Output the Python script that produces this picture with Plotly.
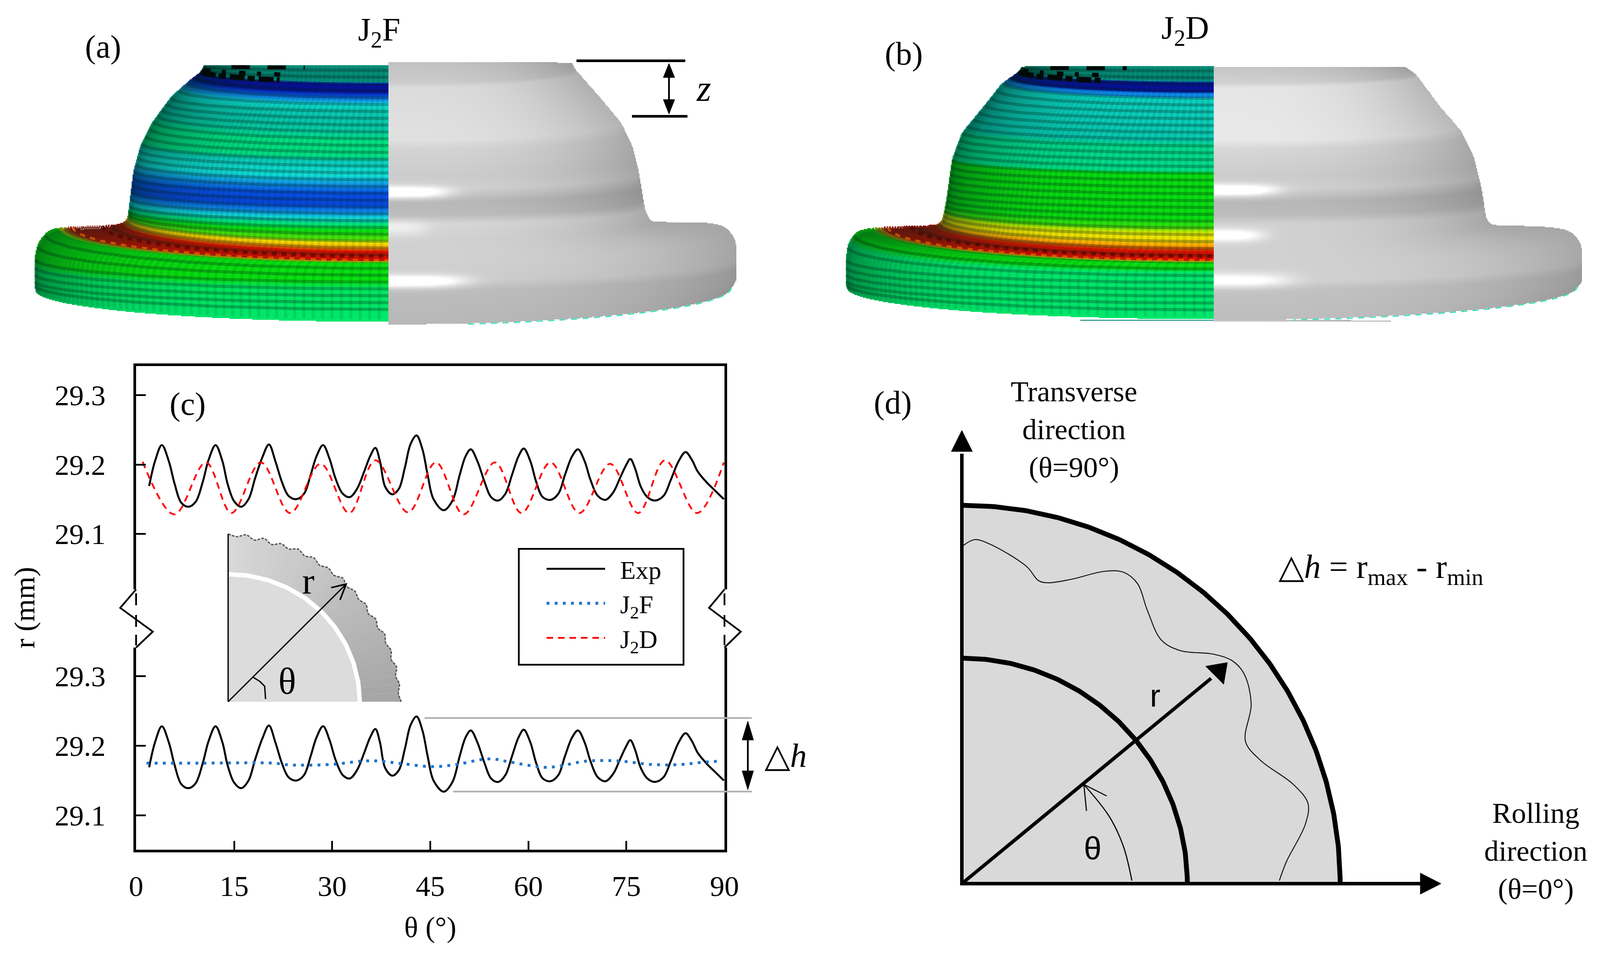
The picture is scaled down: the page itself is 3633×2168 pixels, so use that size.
import numpy as np
import plotly.graph_objects as go

W, H = 3633, 2168

# ---------- chart (c) values ----------
exp_theta = [2.0,2.9,3.94,5.0,5.9,6.9,7.99,9.1,10.2,11.1,12.16,13.2,14.0,15.0,16.08,17.2,18.2,19.3,20.32,21.3,22.3,23.3,24.5,25.7,26.7,27.6,28.6,29.6,30.5,31.6,32.7,33.8,34.9,35.8,36.6,37.3,38.1,39.2,40.2,41.1,42.0,42.9,43.8,44.6,45.5,47.05,48.4,49.5,50.4,51.2,52.2,53.3,54.3,55.4,56.5,57.5,58.5,59.3,60.3,61.2,62.2,63.4,64.6,65.6,66.7,67.6,68.6,69.5,70.6,71.8,73.0,74.0,74.9,75.6,76.3,77.2,78.2,79.4,80.7,81.8,83.0,84.05,85.0,85.9,87.2,88.6,89.9]
exp_r = [29.169,29.205,29.228,29.205,29.172,29.145,29.139,29.146,29.175,29.207,29.228,29.205,29.172,29.147,29.139,29.150,29.180,29.210,29.229,29.205,29.175,29.155,29.150,29.158,29.185,29.212,29.228,29.208,29.180,29.158,29.153,29.165,29.190,29.212,29.224,29.205,29.168,29.157,29.165,29.195,29.230,29.242,29.222,29.185,29.150,29.134,29.148,29.185,29.212,29.222,29.205,29.175,29.153,29.148,29.158,29.185,29.212,29.223,29.205,29.175,29.153,29.149,29.158,29.185,29.212,29.222,29.205,29.178,29.155,29.149,29.160,29.180,29.198,29.208,29.195,29.168,29.153,29.148,29.155,29.178,29.205,29.218,29.207,29.190,29.175,29.162,29.150]
j2f_theta = [1.6,10,21,23.4,29.7,34.7,37.1,40.9,45.2,49,52.7,54.6,57,63,69,74,78.9,83.2,86.4,89.5]
j2f_r = [29.175,29.175,29.175,29.1725,29.173,29.178,29.178,29.174,29.170,29.173,29.180,29.181,29.177,29.169,29.178,29.178,29.173,29.173,29.176,29.178]
j2d_theta = [1.0,5.87,10.67,14.59,19.08,23.56,28.23,32.6,36.6,41.6,45.86,50.1,54.9,58.95,63.4,67.8,72.5,76.8,80.9,85.8,89.9]
j2d_r = [29.204,29.128,29.203,29.130,29.203,29.130,29.201,29.130,29.206,29.131,29.203,29.128,29.203,29.130,29.203,29.130,29.201,29.130,29.206,29.130,29.203]
x_ticks = [0,15,30,45,60,75,90]
r_ticks = [29.1,29.2,29.3]
r_tick_labels = ["29.1","29.2","29.3"]

# ---------- illustration parameters (a), (b) ----------
palette = [[0.00,"#08109a"],[0.12,"#0850e8"],[0.22,"#1098e8"],[0.30,"#10e0d8"],[0.38,"#08c8ae"],[0.48,"#00e878"],
           [0.56,"#08e010"],[0.68,"#a0e800"],[0.76,"#f0e800"],[0.86,"#ffa000"],[1.00,"#d81000"]]
a_s_y = [148,186,192,210,222,236,250,300,320,355,372,400,420,440,465,482,497,508,525,545,552,562,572,592,598,640,655,730]
a_s_v = [.38,.38,0,0,.15,.28,.36,.40,.46,.46,.34,.30,.22,.12,.10,.2,.3,.46,.56,.62,.76,.84,1,1,.56,.56,.5,.49]
b_s_y = [149,184,189,209,214,221,226,318,330,388,395,497,517,530,547,560,572,592,597,612,620,724]
b_s_v = [.38,.38,0,0,.2,.2,.34,.37,.44,.45,.56,.56,.60,.74,.78,.86,1,1,.56,.56,.49,.49]
a_left = dict(cx=882, seam=[148,195,219,249,320,365,423,512,560,578,592,602,622,640,690,730], x=[465,455,430,390,345,320,304,293,290,272,149,112,86,79,79,82], y=[148,165,184,219,280,330,388,478,498,512,515,520,552,590,642,660])
b_left = dict(cx=2756, seam=[149,195,225,269,330,390,478,520,550,572,592,602,622,640,690,724], x=[2322,2312,2275,2237,2186,2163,2151,2145,2140,2130,2010,1950,1926,1921,1921,1925], y=[152,165,190,239,300,360,448,480,500,512,515,520,552,590,640,655])
a_right = dict(cx=882, seam=[142,195,249,320,365,423,512,545,592,602,622,640,690,736], x=[1297,1307,1359,1410,1436,1449,1464,1478,1590,1642,1670,1672,1672,1660], y=[143,160,219,280,335,388,478,505,505,510,542,590,632,652])
b_right = dict(cx=2756, seam=[148,195,269,328,380,453,527,548,592,602,622,640,690,726], x=[3192,3215,3266,3317,3345,3362,3374,3385,3500,3561,3590,3592,3592,3580], y=[154,170,239,298,355,423,497,512,515,520,552,590,636,650])
gray_y = [142,190,200,320,340,400,430,460,490,510,545,592,640,660,736]
a_gray = [.76,.80,.86,.88,.83,.80,.82,.72,.74,.84,.82,.82,.80,.74,.72]
b_gray = [.76,.82,.90,.91,.84,.80,.82,.72,.74,.82,.82,.82,.82,.76,.74]
a_glints = [(438,13,.32,135),(518,18,.10,90),(640,14,.32,170)]
b_glints = [(433,13,.32,140),(535,14,.25,110),(638,16,.22,170)]


def build_table(k):
    s = np.arange(k["seam"][0], k["seam"][-1] + 0.5, 0.5)
    ker = np.exp(-0.5 * (np.arange(-30, 31) / 10.0) ** 2)
    ker /= ker.sum()
    out = []
    for key in ("x", "y"):
        v = np.interp(s, k["seam"], k[key])
        pad = np.r_[np.full(30, v[0]), v, np.full(30, v[-1])]
        out.append(np.convolve(pad, ker, mode="valid"))
    k["tab"] = (s, out[0], out[1])


for _k in (a_left, b_left, a_right, b_right):
    build_table(_k)


def ring(seam, k):
    s, x, y = k["tab"]
    return np.interp(seam, s, x), np.interp(seam, s, y)


def rasterise(k, fn, cell=2):
    seam = np.arange(k["seam"][0], k["seam"][-1], 0.5)
    ang = np.linspace(0, np.pi / 2, 1000)
    S, A = np.meshgrid(seam, ang, indexing="ij")
    ex, ey = ring(S, k)
    X = k["cx"] + (ex - k["cx"]) * np.cos(A)
    Y = ey + (S - ey) * np.sin(A)
    x0, x1 = min(k["x"] + [k["cx"]]) - 2, max(k["x"] + [k["cx"]]) + 2
    y0, y1 = min(k["y"]) - 2, k["seam"][-1] + 2
    nx, ny = int((x1 - x0) // cell) + 1, int((y1 - y0) // cell) + 1
    Z = np.full((ny, nx), np.nan, dtype=np.float32)
    ix = ((X - x0) // cell).astype(int)
    iy = ((Y - y0) // cell).astype(int)
    Z[iy.ravel(), ix.ravel()] = fn(S, A, X).ravel()
    return dict(z=Z, x0=x0 + cell / 2, dx=cell, y0=y0 + cell / 2, dy=cell)


def gray_fn(levels, glints, k):
    def f(S, A, X):
        g = np.interp(S, gray_y, levels)
        dx = np.abs(X - k["cx"])
        for yc, sig, amp, wid in glints:
            g = g + amp * np.exp(-((S - yc) / sig) ** 2) * np.exp(-(dx / wid) ** 4)
        return np.clip(g * (1 - 0.2 * np.cos(A) ** 3), 0, 1)
    return f


def shade_fn(S, A, X):
    return np.clip(0.6 * np.cos(A) ** 5 + 0.55 * (S < 190), 0, 1)


fig = go.Figure()
OV = dict(xaxis="x3", yaxis="y3", showlegend=False, hoverinfo="skip")

for k, sy, sv in [(a_left, a_s_y, a_s_v), (b_left, b_s_y, b_s_v)]:
    fig.add_trace(go.Heatmap(colorscale=palette, zmin=0, zmax=1, showscale=False,
                             **rasterise(k, lambda S, A, X, sy=sy, sv=sv: np.interp(S, sy, sv), 2), **OV))
    fig.add_trace(go.Heatmap(colorscale=[[0, "rgba(0,30,20,0)"], [1, "rgba(0,30,20,0.6)"]], zmin=0, zmax=1, showscale=False,
                             **rasterise(k, shade_fn, 2), **OV))
for k, lev, gl in [(a_right, a_gray, a_glints), (b_right, b_gray, b_glints)]:
    fig.add_trace(go.Heatmap(colorscale=[[0, "#000000"], [1, "#ffffff"]], zmin=0, zmax=1, showscale=False,
                             **rasterise(k, gray_fn(lev, gl, k), 2), **OV))


def arc(k, seam, a0=0.0, a1=np.pi / 2, n=50, mult=1.0):
    ang = np.linspace(a0, a1, n)
    ex, ey = ring(seam, k)
    return k["cx"] + (ex - k["cx"]) * mult * np.cos(ang), ey + (seam - ey) * np.sin(ang)


def arcs_and_meridians(k, step=15.5):
    axs, ays, mxs, mys = [], [], [], []
    for s in np.arange(k["seam"][0] + 12, k["seam"][-1] - 12, step):
        x_, y_ = arc(k, s, 0.03)
        axs += list(x_) + [None]
        ays += list(y_) + [None]
    sv = np.linspace(k["seam"][0] + 4, k["seam"][-1] - 5, 60)
    ex, ey = ring(sv, k)
    for a in np.arange(0.06, np.pi / 2, 0.027):
        mxs += list(k["cx"] + (ex - k["cx"]) * np.cos(a)) + [None]
        mys += list(ey + (sv - ey) * np.sin(a)) + [None]
    return axs, ays, mxs, mys


for k in (a_left, b_left):
    ax_, ay_, mx_, my_ = arcs_and_meridians(k)
    fig.add_trace(go.Scatter(x=mx_, y=my_, mode="lines", line=dict(color="rgba(0,40,30,0.10)", width=7), **OV))
    fig.add_trace(go.Scatter(x=ax_, y=ay_, mode="lines", line=dict(color="rgba(0,30,20,0.28)", width=7), **OV))
    s0 = k["seam"][0]
    for ds, a0, a1, wid, dash in [(38, 0.03, 0.95, 12, "34px,7px,16px,9px"), (24, 0.12, 0.95, 10, "15px,26px,9px,30px"),
                                  (6, 0.55, 1.1, 9, "42px,40px")]:
        x_, y_ = arc(k, s0 + ds, a0, a1)
        fig.add_trace(go.Scatter(x=x_, y=y_, mode="lines", line=dict(color="#020a08", width=wid, dash=dash), **OV))
    for sm, col, wid, dash in [(582, "rgba(70,0,0,0.55)", 8, "11px,11px"), (591, "rgba(255,130,0,0.55)", 5, "12px,12px")]:
        x_, y_ = arc(k, sm, 0.0, np.pi / 2)
        fig.add_trace(go.Scatter(x=x_, y=y_, mode="lines", line=dict(color=col, width=wid, dash=dash), **OV))
for k in (a_right, b_right):
    x_, y_ = arc(k, k["seam"][-1], 0.0, 1.35)
    fig.add_trace(go.Scatter(x=x_, y=y_ + 2, mode="lines", line=dict(color="#45e0c0", width=3, dash="14px,12px"), **OV))

# ---------- inset of (c) ----------
inset_mult = [1.00,.985,1.0,.975,.995,.97,.99,.975,.995,.975,.99,.97,.985,.97,.99,.97,.985,.97,.985,.965,.985,.97,.99,.975,.99,.975,.995,.98,.995,.985,1.0]
oi, ox_r, oy_r = (518, 1593), 393, 381
angs = np.radians(np.linspace(90, 0, len(inset_mult)))
for i in range(len(angs) - 1):
    t = i / (len(angs) - 2)
    g = int(216 - 50 * t)
    a1, a2 = angs[i], angs[i + 1]
    m1, m2 = inset_mult[i], inset_mult[i + 1]
    px = [oi[0] + .75 * ox_r * np.cos(a1), oi[0] + m1 * ox_r * np.cos(a1), oi[0] + m2 * ox_r * np.cos(a2) + 1, oi[0] + .75 * ox_r * np.cos(a2) + 1]
    py = [oi[1] - .75 * oy_r * np.sin(a1), oi[1] - m1 * oy_r * np.sin(a1), oi[1] - m2 * oy_r * np.sin(a2), oi[1] - .75 * oy_r * np.sin(a2)]
    fig.add_trace(go.Scatter(x=px, y=py, fill="toself", fillcolor=f"rgb({g},{g},{g})", mode="none", **OV))
aa = np.radians(np.linspace(90, 0, 80))
fig.add_trace(go.Scatter(x=[oi[0]] + list(oi[0] + .755 * ox_r * np.cos(aa)), y=[oi[1]] + list(oi[1] - .755 * oy_r * np.sin(aa)),
                         fill="toself", fillcolor="#dcdcdc", mode="none", **OV))
fig.add_trace(go.Scatter(x=oi[0] + .76 * ox_r * np.cos(aa), y=oi[1] - .76 * oy_r * np.sin(aa), mode="lines",
                         line=dict(color="white", width=10), **OV))
fig.add_trace(go.Scatter(x=oi[0] + np.array(inset_mult) * ox_r * np.cos(angs), y=oi[1] - np.array(inset_mult) * oy_r * np.sin(angs),
                         mode="lines", line=dict(color="#555555", width=3, dash="6px,3px", shape="spline"), **OV))

# ---------- panel (d) ----------
d_o = (2184, 2006)
d_outer, d_inner = 859, 512
wavy_x = [2188,2213,2245,2331,2358,2379,2433,2508,2551,2583,2605,2637,2680,2755,2798,2825,2841,2828,2862,2937,2970,2964,2921,2905]
wavy_y = [1238,1225,1234,1286,1318,1323,1315,1297,1299,1325,1385,1453,1477,1485,1500,1530,1598,1683,1726,1781,1824,1871,1956,1999]
dq = np.radians(np.linspace(90, 0, 200))
fig.add_trace(go.Scatter(x=[d_o[0]] + list(d_o[0] + d_outer * np.cos(dq)), y=[d_o[1]] + list(d_o[1] - d_outer * np.sin(dq)),
                         fill="toself", fillcolor="#d9d9d9", mode="none", **OV))
fig.add_trace(go.Scatter(x=wavy_x, y=wavy_y, mode="lines", line=dict(color="#111111", width=2.2, shape="spline"), **OV))
for R in (d_outer, d_inner):
    fig.add_trace(go.Scatter(x=d_o[0] + R * np.cos(dq), y=d_o[1] - R * np.sin(dq), mode="lines", line=dict(color="black", width=11), **OV))
fig.add_trace(go.Scatter(x=[2570, 2551, 2519, 2461], y=[1999, 1922, 1854, 1781], mode="lines", line=dict(color="black", width=2.5, shape="spline"), **OV))

# ---------- chart (c) traces ----------
NB = "\u00a0\u00a0"
line_exp = dict(color="black", width=4.5, shape="spline")
fig.add_trace(go.Scatter(x=exp_theta, y=exp_r, name=NB + "Exp", mode="lines", line=line_exp, xaxis="x2", yaxis="y2", legendgroup="e"))
fig.add_trace(go.Scatter(x=exp_theta, y=exp_r, name="Exp", mode="lines", line=line_exp, xaxis="x", yaxis="y", showlegend=False))
fig.add_trace(go.Scatter(x=j2f_theta, y=j2f_r, name=NB + "J<sub>2</sub>F", mode="lines", legendgroup="f",
                         line=dict(color="#1f72cc", width=6.5, dash="6.5px,12px", shape="spline"), xaxis="x", yaxis="y"))
fig.add_trace(go.Scatter(x=j2d_theta, y=j2d_r, name=NB + "J<sub>2</sub>D", mode="lines", legendgroup="d",
                         line=dict(color="#ff0000", width=4, dash="15px,11px", shape="spline"), xaxis="x2", yaxis="y2"))


def line(x0, y0, x1, y1, color="black", width=4, dash=None):
    return dict(type="line", xref="x3", yref="y3", x0=x0, y0=y0, x1=x1, y1=y1, line=dict(color=color, width=width, dash=dash))


def head(tx, ty, bx, by, half):
    dx, dy = tx - bx, ty - by
    n = np.hypot(dx, dy)
    nx, ny = -dy / n * half, dx / n * half
    return dict(type="path", xref="x3", yref="y3", fillcolor="black", line=dict(color="black", width=1),
                path=f"M{tx},{ty} L{bx+nx:.1f},{by+ny:.1f} L{bx-nx:.1f},{by-ny:.1f} Z")


def poly(pts, width=4, color="black"):
    p = "M" + " L".join(f"{x},{y}" for x, y in pts)
    return dict(type="path", xref="x3", yref="y3", line=dict(color=color, width=width), path=p)


shapes = [
    # legend box
    dict(type="rect", xref="x3", yref="y3", x0=1178, x1=1552, y0=1246, y1=1509, line=dict(color="black", width=4), fillcolor="white", layer="below"),
    # axis break
    poly([(309, 1338), (273, 1380), (347, 1434), (309, 1470)]),
    poly([(1645, 1338), (1610, 1380), (1682, 1434), (1645, 1470)]),
    line(309, 1347, 309, 1374), line(309, 1396, 309, 1423), line(309, 1441, 309, 1465),
    line(1645, 1347, 1645, 1374), line(1645, 1396, 1645, 1423), line(1645, 1441, 1645, 1465),
    # delta h
    line(964, 1630, 1707, 1630, "#b3b3b3", 4), line(1029, 1797, 1707, 1797, "#b3b3b3", 4),
    line(1698, 1665, 1698, 1765, "black", 4), head(1698, 1637, 1698, 1680, 13), head(1698, 1793, 1698, 1750, 13),
    # z marker
    line(1309, 138, 1556, 138, "black", 6), line(1435, 264, 1561, 264, "black", 6),
    line(1519, 165, 1519, 240, "black", 4), head(1519, 144, 1519, 176, 13), head(1519, 259, 1519, 226, 13),
    # inset
    line(518, 1212, 518, 1593, "black", 3), line(518, 1593, 786, 1326, "black", 3),
    poly([(752, 1334), (786, 1326), (772, 1362)], 3.5),
    poly([(574, 1537), (590, 1547), (601, 1558), (603, 1587)], 3),
    # panel d axes
    line(d_o[0], 2006, d_o[0], 1030, "black", 8), head(d_o[0], 977, d_o[0], 1025, 24),
    line(d_o[0] - 4, 2006, 3230, 2006, "black", 8), head(3272, 2006, 3225, 2006, 24),
    line(d_o[0], 2006, 2750, 1540, "black", 8), head(2787, 1504, 2758, 1533, 29),
    poly([(2513, 1807), (2461, 1781), (2467, 1841)], 2.5),
]

F = "Liberation Serif"


def txt(x, y, s, size=68, font=F, **kw):
    return dict(x=x, y=y, xref="x3", yref="y3", text=s, showarrow=False, font=dict(family=font, size=size, color="black"),
                xanchor="center", yanchor="middle", **kw)


annotations = [
    txt(234, 106, "(a)", 74), txt(861, 72, "J<sub>2</sub>F", 74), txt(1598, 200, "<i>z</i>", 84),
    txt(2052, 122, "(b)", 74), txt(2691, 68, "J<sub>2</sub>D", 74),
    txt(426, 917, "(c)", 74), txt(2027, 914, "(d)", 74),
    txt(56, 1380, "r (mm)", 66, textangle=-90),
    txt(700, 1318, "r", 84), txt(652, 1546, "θ", 84),
    txt(1784, 1715, "△<i>h</i>", 76),
    txt(2438, 975, "Transverse<br>direction<br>(θ=90°)", 66),
    txt(3487, 1932, "Rolling<br>direction<br>(θ=0°)", 66),
    txt(3135, 1292, "△<i>h</i> = r<sub>max</sub> - r<sub>min</sub>", 76),
    txt(2623, 1579, "r", 72, "Liberation Sans"), txt(2481, 1926, "θ", 72, "Liberation Sans"),
]

tick_font = dict(family=F, size=66, color="black")
yax = dict(range=None, tickvals=r_ticks, ticktext=r_tick_labels, ticks="inside", ticklen=22, tickwidth=4, tickcolor="black",
           showline=True, linecolor="black", linewidth=6, mirror=True, showgrid=False, zeroline=False, tickfont=tick_font,
           ticklabelstandoff=50)

fig.update_layout(
    width=W, height=H, autosize=False, margin=dict(l=0, r=0, t=0, b=0, autoexpand=False), paper_bgcolor="white", plot_bgcolor="rgba(0,0,0,0)",
    xaxis=dict(domain=[309 / W, 1645 / W], range=[0, 90], anchor="y", tickvals=x_ticks, ticks="inside", ticklen=20, tickwidth=4,
               tickcolor="black", showline=True, linecolor="black", linewidth=6, showgrid=False, zeroline=False, tickfont=tick_font,
               ticklabelstandoff=20, title=dict(text="θ (°)", font=tick_font, standoff=36)),
    yaxis={**yax, "domain": [1 - 1929 / H, 1 - 1470 / H], "range": [29.0506, 29.3411], "anchor": "x"},
    xaxis2=dict(domain=[309 / W, 1645 / W], range=[0, 90], anchor="y2", side="top", showticklabels=False, ticks="",
                showline=True, linecolor="black", linewidth=6, showgrid=False, zeroline=False),
    yaxis2={**yax, "domain": [1 - 1338 / H, 1 - 831 / H], "range": [29.0198, 29.3421], "anchor": "x2"},
    xaxis3=dict(domain=[0, 1], range=[0, W], anchor="y3", visible=False),
    yaxis3=dict(domain=[0, 1], range=[H, 0], anchor="x3", visible=False),
    legend=dict(x=1236 / W, y=1 - 1247 / H, xanchor="left", yanchor="top", bgcolor="rgba(0,0,0,0)", borderwidth=0,
                font=dict(family=F, size=58, color="black"), itemwidth=133, tracegroupgap=22, traceorder="normal"),
    shapes=shapes, annotations=annotations, hovermode=False,
)

fig.write_html("out.html", config=dict(displayModeBar=False), post_script="document.body.style.margin='0';")
